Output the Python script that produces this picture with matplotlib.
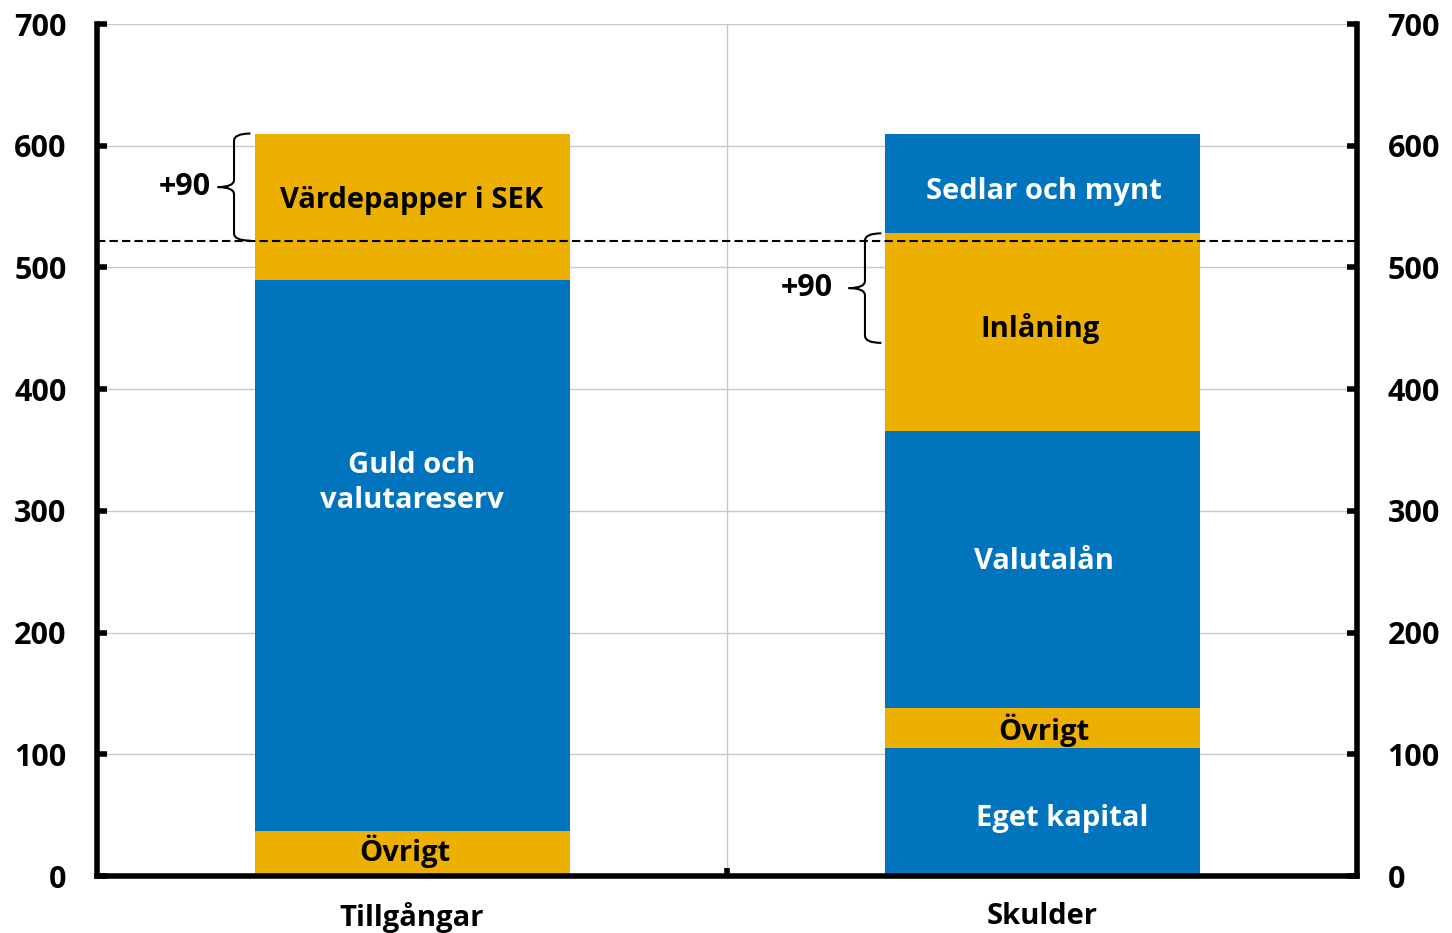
import matplotlib
matplotlib.use("Agg")
import matplotlib.pyplot as plt
from matplotlib.path import Path
from matplotlib.patches import PathPatch

categories = ["Tillgångar", "Skulder"]
# stacked segments bottom -> top
assets_labels = ["Övrigt", "Guld och\nvalutareserv", "Värdepapper i SEK"]
assets_values = [37, 453, 120]
assets_colors = ["#EDB000", "#0075BE", "#EDB000"]
liab_labels = ["Eget kapital", "Övrigt", "Valutalån", "Inlåning", "Sedlar och mynt"]
liab_values = [105, 33, 228, 162, 82]
liab_colors = ["#0075BE", "#EDB000", "#0075BE", "#EDB000", "#0075BE"]
dashed_level = 522
brace_text = "+90"
brace_size = 90

plt.rcParams['font.family'] = ['Open Sans', 'DejaVu Sans']
plt.rcParams['font.weight'] = 'bold'

fig = plt.figure(figsize=(14.52, 9.33), dpi=100)
ax = fig.add_axes([97/1452, 57/933, 1260/1452, 852/933])

fs = 21
tfs = 22
label_cfg_a = [dict(dx=-0.012, y=20, c="black"), dict(dx=0, y=323, c="white"), dict(dx=0, y=555, c="black")]
label_cfg_l = [dict(dx=0.032, y=47, c="white"), dict(dx=0.003, y=120, c="black"), dict(dx=0.003, y=258, c="white"),
               dict(dx=-0.003, y=450, c="black"), dict(dx=0.003, y=562, c="white")]

def stack(xpos, values, colors, labels, cfgs):
    bottom = 0
    for v, col, lab, cfg in zip(values, colors, labels, cfgs):
        ax.bar(xpos, v, bottom=bottom, width=0.5, color=col, zorder=2)
        ax.text(xpos + cfg["dx"], cfg["y"], lab, ha="center", va="center", color=cfg["c"],
                fontsize=fs, fontweight="bold", zorder=4, linespacing=1.3)
        bottom += v
    return bottom

top_a = stack(0, assets_values, assets_colors, assets_labels, label_cfg_a)
top_l = stack(1, liab_values, liab_colors, liab_labels, label_cfg_l)

ax.axhline(dashed_level, color="black", lw=1.5, ls=(0, (4, 2)), zorder=3)

def brace(x, y0, y1, w=0.026, t=0.026, r=6):
    ym = (y0 + y1) / 2
    verts = [(x + w, y1), (x, y1), (x, y1 - r),
             (x, ym + r), (x, ym), (x - t, ym),
             (x, ym), (x, ym - r),
             (x, y0 + r), (x, y0), (x + w, y0)]
    codes = [Path.MOVETO, Path.CURVE3, Path.CURVE3,
             Path.LINETO, Path.CURVE3, Path.CURVE3,
             Path.CURVE3, Path.CURVE3,
             Path.LINETO, Path.CURVE3, Path.CURVE3]
    ax.add_patch(PathPatch(Path(verts, codes), fill=False, lw=1.5, color="black", zorder=5, clip_on=False))
    return x - t, ym

tx, ty = brace(-0.2825, dashed_level, top_a)
ax.text(tx - 0.01, ty, brace_text, ha="right", va="center", fontsize=tfs, fontweight="bold")
inl_top = sum(liab_values[:4])
tx, ty = brace(0.719, inl_top - brace_size, inl_top)
ax.text(tx - 0.025, ty, brace_text, ha="right", va="center", fontsize=tfs, fontweight="bold")

ax.set_xlim(-0.5, 1.5)
ax.set_ylim(0, 700)
ax.set_yticks(range(0, 701, 100))
ax.set_xticks([0, 1])
ax.set_xticklabels(categories, fontsize=fs, fontweight="bold")
ax.set_xticks([0.5], minor=True)
ax.tick_params(axis="x", which="major", length=0, pad=19)
ax.tick_params(axis="x", which="minor", length=6, width=4, direction="in")
ax.tick_params(axis="y", which="major", length=7, width=4, direction="in", labelsize=tfs,
               left=True, right=True, labelleft=True, labelright=True, pad=22)

ax.grid(axis="y", color="#C8C8C8", lw=1, zorder=0)
ax.axvline(0.5, color="#C8C8C8", lw=1, zorder=0)
ax.set_axisbelow(True)

ax.spines["top"].set_visible(False)
for s in ["left", "right", "bottom"]:
    ax.spines[s].set_linewidth(4)
    ax.spines[s].set_capstyle("projecting")

for t in ax.yaxis.get_major_ticks():
    t.label1.set_fontweight("bold")
    t.label2.set_fontweight("bold")
for t in ax.xaxis.get_major_ticks():
    t.label1.set_fontweight("bold")

fig.savefig("out.png", dpi=100)
